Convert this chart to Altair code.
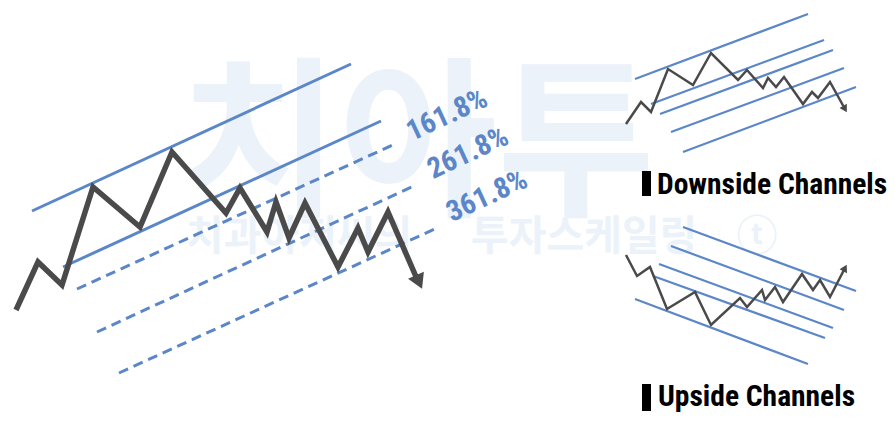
import altair as alt
import pandas as pd

# ---------------- data (illustration coordinates, pixels on the 895x421 canvas) -------------
# Main schematic price path (trend breaking down through the channel)
MAIN_X = [16, 38, 62, 93, 140, 172, 226, 240, 267, 276, 289, 305, 338, 358, 368, 388, 417]
MAIN_Y = [310, 262, 285, 187, 227, 152, 213, 188, 232, 202, 238, 203, 267, 228, 252, 212, 279]

# Main channel lines: start x, start y, end x, end y
MAIN_SOLID_X1 = [32, 63]
MAIN_SOLID_Y1 = [211, 267]
MAIN_SOLID_X2 = [351, 381]
MAIN_SOLID_Y2 = [64, 121]

MAIN_DASH_X1 = [77, 97, 119]
MAIN_DASH_Y1 = [289, 332, 373]
MAIN_DASH_X2 = [397, 416, 437]
MAIN_DASH_Y2 = [143, 185, 228]

# Fibonacci extension labels
FIB_LABELS = ["161.8%", "261.8%", "361.8%"]
FIB_X = [447, 468, 487]
FIB_Y = [115, 153, 196]

# Downside channels mini chart
DOWN_X = [626, 641, 651, 668, 693, 711, 738, 747, 763, 768, 776, 784, 803, 812, 818, 830, 845]
DOWN_Y = [124, 102, 112, 69, 85, 53, 80, 70, 88, 78, 87, 77, 104, 92, 98, 82, 109]
DOWN_CH_X1 = [635, 651, 660, 671, 683]
DOWN_CH_Y1 = [79, 104, 114, 132, 152]
DOWN_CH_X2 = [808, 824, 833, 844, 856]
DOWN_CH_Y2 = [14, 40, 50, 68, 87]

# Upside channels mini chart
UP_X = [626, 637, 650, 667, 695, 711, 740, 747, 762, 765, 775, 783, 802, 813, 820, 830, 845]
UP_Y = [255, 276, 267, 309, 292, 325, 298, 307, 290, 300, 287, 302, 274, 290, 280, 297, 268]
UP_CH_X1 = [683, 671, 659, 653, 635]
UP_CH_Y1 = [227, 246, 264, 276, 299]
UP_CH_X2 = [856, 844, 833, 825, 808]
UP_CH_Y2 = [291, 310, 328, 338, 364]

# Arrowheads: centre x, centre y, rotation, size
ARROW_X = [419, 845, 845]
ARROW_Y = [282, 109, 268]
ARROW_ANGLE = [156, 150, 28]
ARROW_SIZE = [300, 70, 70]

# Section titles
TITLES = ["Downside Channels", "Upside Channels"]
TITLE_X = [657, 658]
TITLE_Y = [194, 406]
BAR_X1 = [642, 642]
BAR_X2 = [651, 651]
BAR_Y1 = [171, 384]
BAR_Y2 = [196, 411]

# Watermark
WM_BIG = ["치아투"]
WM_BIG_X = [418]
WM_BIG_Y = [150]
WM_SMALL = ["치과아저씨의", "투자스케일링", "ⓣ"]
WM_SMALL_X = [186, 471, 757]
WM_SMALL_Y = [238, 238, 238]
WM_SMALL_ALIGN = ["left", "left", "center"]

BLUE = "#5b87c9"
GRAY = "#4a4a4a"
WM = "#ecf2f9"
CJK = "Noto Sans CJK KR"
COND = "'Roboto Condensed', Roboto, sans-serif"

xs = alt.Scale(domain=[8, 887], zero=False, nice=False)
ys = alt.Scale(domain=[8, 413], zero=False, nice=False, reverse=True)


def X(f="x"):
    return alt.X(f"{f}:Q", scale=xs, axis=None)


def Y(f="y"):
    return alt.Y(f"{f}:Q", scale=ys, axis=None)


def seg_df(x1, y1, x2, y2):
    return pd.DataFrame({"x": x1, "y": y1, "x2": x2, "y2": y2})


def path_df(xs_, ys_, name):
    return pd.DataFrame({"x": xs_, "y": ys_, "i": list(range(len(xs_))), "s": name})


# ---------------- layers ----------------
wm_big = alt.Chart(pd.DataFrame({"x": WM_BIG_X, "y": WM_BIG_Y, "t": WM_BIG})).mark_text(
    font=CJK, fontSize=172, fontWeight="bold", color=WM, align="center", baseline="middle"
).encode(x=X(), y=Y(), text="t:N")

wm_small_layers = []
for t, x, y, a in zip(WM_SMALL, WM_SMALL_X, WM_SMALL_Y, WM_SMALL_ALIGN):
    wm_small_layers.append(
        alt.Chart(pd.DataFrame({"x": [x], "y": [y], "t": [t]})).mark_text(
            font=CJK, fontSize=41, fontWeight="bold", color=WM, align=a, baseline="middle"
        ).encode(x=X(), y=Y(), text="t:N")
    )

main_solid = alt.Chart(seg_df(MAIN_SOLID_X1, MAIN_SOLID_Y1, MAIN_SOLID_X2, MAIN_SOLID_Y2)).mark_rule(
    color=BLUE, strokeWidth=3
).encode(x=X(), y=Y(), x2="x2:Q", y2="y2:Q")

main_dash = alt.Chart(seg_df(MAIN_DASH_X1, MAIN_DASH_Y1, MAIN_DASH_X2, MAIN_DASH_Y2)).mark_rule(
    color=BLUE, strokeWidth=3, strokeDash=[10, 6]
).encode(x=X(), y=Y(), x2="x2:Q", y2="y2:Q")

mini_ch = alt.Chart(
    pd.concat([
        seg_df(DOWN_CH_X1, DOWN_CH_Y1, DOWN_CH_X2, DOWN_CH_Y2),
        seg_df(UP_CH_X1, UP_CH_Y1, UP_CH_X2, UP_CH_Y2),
    ])
).mark_rule(color=BLUE, strokeWidth=2.2).encode(x=X(), y=Y(), x2="x2:Q", y2="y2:Q")

main_price = alt.Chart(path_df(MAIN_X, MAIN_Y, "main")).mark_line(
    color=GRAY, strokeWidth=5.5, strokeJoin="miter"
).encode(x=X(), y=Y(), order="i:Q")

mini_price = alt.Chart(
    pd.concat([path_df(DOWN_X, DOWN_Y, "down"), path_df(UP_X, UP_Y, "up")])
).mark_line(color=GRAY, strokeWidth=2.5, strokeJoin="miter").encode(
    x=X(), y=Y(), order="i:Q", detail="s:N"
)

arrows = alt.Chart(
    pd.DataFrame({"x": ARROW_X, "y": ARROW_Y, "a": ARROW_ANGLE, "sz": ARROW_SIZE})
).mark_point(shape="triangle-up", filled=True, opacity=1, color=GRAY).encode(
    x=X(), y=Y(), angle=alt.Angle("a:Q", scale=None), size=alt.Size("sz:Q", scale=None)
)

fib = alt.Chart(pd.DataFrame({"x": FIB_X, "y": FIB_Y, "t": FIB_LABELS})).mark_text(
    font=COND, fontSize=29, fontWeight="bold", color=BLUE, align="center", baseline="middle", angle=335
).encode(x=X(), y=Y(), text="t:N")

bars = alt.Chart(seg_df(BAR_X1, BAR_Y1, BAR_X2, BAR_Y2)).mark_rect(color="#000000").encode(
    x=X(), y=Y(), x2="x2:Q", y2="y2:Q"
)

titles = alt.Chart(pd.DataFrame({"x": TITLE_X, "y": TITLE_Y, "t": TITLES})).mark_text(
    font=COND, fontSize=29.5, fontWeight="bold", color="#000000", align="left", baseline="alphabetic"
).encode(x=X(), y=Y(), text="t:N")

chart = alt.layer(
    wm_big, *wm_small_layers, main_solid, main_dash, mini_ch, main_price, mini_price, arrows, fib, bars, titles
).properties(
    width=879, height=405, padding=0, autosize=alt.AutoSizeParams(type="none"), background="#ffffff"
).configure_view(strokeWidth=0)

chart.save("out.html", embed_options={"renderer": "svg", "actions": False})
